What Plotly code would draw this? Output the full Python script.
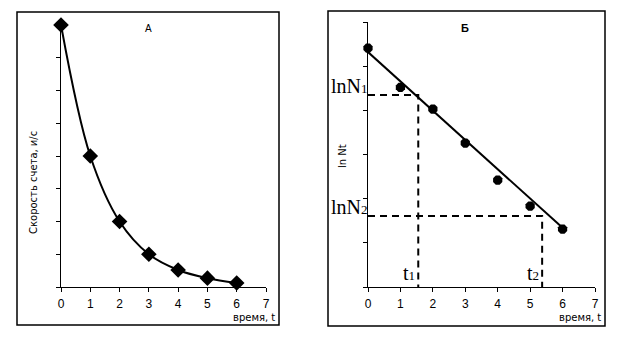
import plotly.graph_objects as go

# Panel A: count rate vs time
t_a = [0, 1, 2, 3, 4, 5, 6]
rate_a = [8.0, 4.0, 2.0, 1.0, 0.52, 0.27, 0.12]

# Panel B: ln of count vs time
t_b = [0, 1, 2, 3, 4, 5, 6]
ln_b = [5.41, 4.52, 4.03, 3.26, 2.42, 1.83, 1.31]

# straight line drawn through the panel B points
line_t = [0, 6]
line_ln = [5.32, 1.34]

# reading points lnN1 at t1 and lnN2 at t2
t_read = [1.55, 5.37]
ln_read = [4.35, 1.61]

x_ticks = [0, 1, 2, 3, 4, 5, 6, 7]

W, H = 623, 339


def px(x):
    return x / W


def py(y):
    return 1 - y / H


fig = go.Figure()

fig.add_trace(go.Scatter(
    x=t_a, y=rate_a, mode="lines+markers", cliponaxis=False,
    line=dict(color="black", width=2, shape="spline", smoothing=1.0),
    marker=dict(symbol="diamond", size=12, color="black"),
    xaxis="x", yaxis="y", showlegend=False, hoverinfo="skip"))

fig.add_trace(go.Scatter(
    x=line_t, y=line_ln, mode="lines", cliponaxis=False,
    line=dict(color="black", width=2),
    xaxis="x2", yaxis="y2", showlegend=False, hoverinfo="skip"))

fig.add_trace(go.Scatter(
    x=t_b, y=ln_b, mode="markers", cliponaxis=False,
    marker=dict(symbol="octagon", size=10, color="black"),
    xaxis="x2", yaxis="y2", showlegend=False, hoverinfo="skip"))

dash = "7px,5px"
for tv, lv in zip(t_read, ln_read):
    fig.add_trace(go.Scatter(
        x=[0, tv, tv], y=[lv, lv, 0], mode="lines",
        line=dict(color="black", width=2, dash=dash),
        xaxis="x2", yaxis="y2", showlegend=False, hoverinfo="skip"))

tick_font = dict(family="Liberation Sans, Arial", size=12, color="black")
axis_common = dict(showgrid=False, zeroline=False, showline=True,
                   linecolor="black", linewidth=1, ticks="outside",
                   ticklen=4, tickcolor="black", tickwidth=1,
                   automargin=False, fixedrange=True)

fig.update_layout(
    width=W, height=H,
    margin=dict(l=0, r=0, t=0, b=0),
    paper_bgcolor="white", plot_bgcolor="white",
    xaxis=dict(domain=[px(61), px(266)], range=[0, 7], tickvals=x_ticks,
               tickfont=tick_font, ticklabelstandoff=2, anchor="y",
               **axis_common),
    yaxis=dict(domain=[py(287), py(25)], range=[0, 8], dtick=1,
               showticklabels=False, anchor="x", **axis_common),
    xaxis2=dict(domain=[px(368), px(595)], range=[0, 7], tickvals=x_ticks,
                tickfont=tick_font, ticklabelstandoff=2, anchor="y2",
                **axis_common),
    yaxis2=dict(domain=[py(287), py(22)], range=[0, 6], dtick=1,
                showticklabels=False, anchor="x2", **axis_common),
)

# frames around each panel
for x0, y0, x1, y1 in [(17, 12, 279, 325), (328, 11, 605, 326)]:
    fig.add_shape(type="rect", xref="paper", yref="paper",
                  x0=px(x0), x1=px(x1), y0=py(y1), y1=py(y0),
                  line=dict(color="black", width=1.5))

sans = "Liberation Sans, Arial"
wide = "DejaVu Sans, Verdana"
serif = "Liberation Serif, Times New Roman"
ann = [
    dict(x=px(148), y=py(29), text="A", font=dict(family=sans, size=10)),
    dict(x=px(465), y=py(28), text="<b>Б</b>", font=dict(family=sans, size=11)),
    dict(x=px(277), y=py(317), text="время, t", xanchor="right",
         font=dict(family=wide, size=10)),
    dict(x=px(603), y=py(317), text="время, t", xanchor="right",
         font=dict(family=wide, size=10)),
    dict(x=px(34), y=py(183), text="Скорость счета, и/с", textangle=-90,
         font=dict(family=wide, size=10)),
    dict(x=px(342), y=py(156), text="ln Nt", textangle=-90,
         font=dict(family=wide, size=10)),
]
for a in ann:
    a.update(xref="paper", yref="paper", showarrow=False, yanchor="middle")
    a.setdefault("xanchor", "center")
    a["font"]["color"] = "black"
    fig.add_annotation(**a)

# serif labels for the reading lines; index digit set smaller on the baseline
lab_font = dict(family=serif, size=20, color="black")


def indexed(base, idx):
    return f'{base}<span style="font-size:13px">{idx}</span>'


for i, (tv, lv) in enumerate(zip(t_read, ln_read), start=1):
    fig.add_annotation(x=0, y=lv, xref="x2", yref="y2", text=indexed("lnN", i),
                       xanchor="right", yanchor="bottom", xshift=2, yshift=-4,
                       showarrow=False, font=lab_font)
    fig.add_annotation(x=tv, y=0, xref="x2", yref="y2", text=indexed("t", i),
                       xanchor="right", yanchor="bottom", xshift=-1, yshift=1,
                       showarrow=False, font=lab_font)

fig.write_html("out.html")
